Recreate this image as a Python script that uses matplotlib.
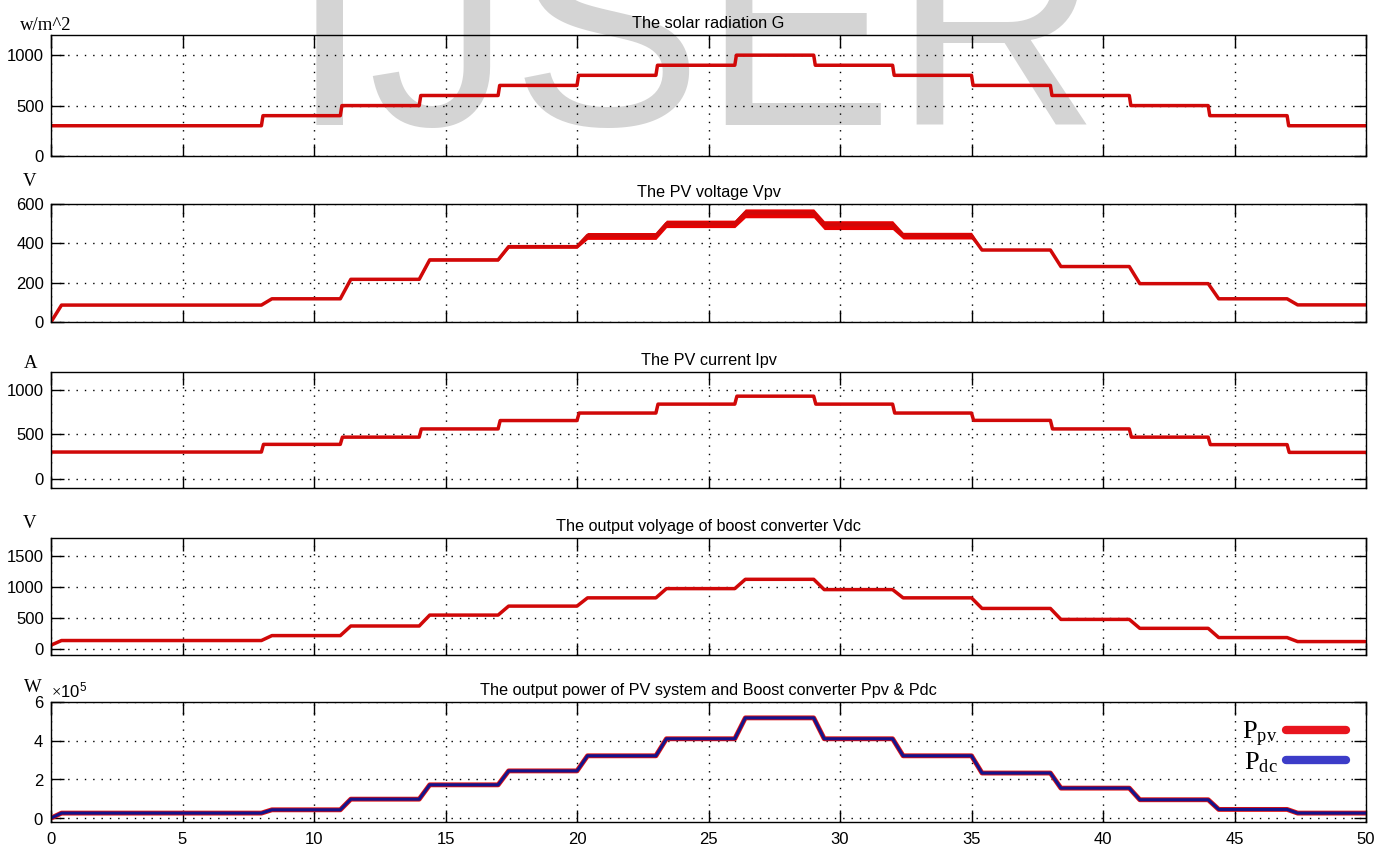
import numpy as np
import matplotlib
matplotlib.use('Agg')
import matplotlib.pyplot as plt
from matplotlib.lines import Line2D

plt.rcParams['font.family'] = 'Liberation Sans'
plt.rcParams['mathtext.fontset'] = 'custom'
plt.rcParams['mathtext.rm'] = 'Liberation Serif'
plt.rcParams['mathtext.it'] = 'Liberation Serif:italic'

# switching instants (s) and the level held in each interval
step_times = [0, 8, 11, 14, 17, 20, 23, 26, 29, 32, 35, 38, 41, 44, 47, 50]
G = [300, 400, 500, 600, 700, 800, 900, 1000, 900, 800, 700, 600, 500, 400, 300]
Vpv = [86, 118, 217, 316, 383, 440, 500, 555, 495, 440, 366, 282, 195, 118, 87]
Vpv_lo = [86, 118, 212, 310, 375, 420, 480, 530, 470, 422, 364, 280, 195, 118, 87]
Vpv_hi = [86, 118, 221, 322, 392, 455, 518, 575, 515, 456, 370, 285, 195, 118, 87]
Ipv = [303, 389, 470, 562, 656, 740, 840, 929, 840, 740, 658, 562, 470, 386, 299]
Vdc = [135, 215, 371, 548, 694, 828, 978, 1129, 962, 828, 656, 478, 333, 183, 118]
Ppv = [26000, 43000, 98000, 172000, 244000, 322000, 410000, 518000, 410000,
       322000, 233000, 155000, 95000, 45000, 26000]
Pdc = [26000, 43000, 98000, 172000, 244000, 322000, 410000, 518000, 410000,
       322000, 233000, 155000, 95000, 45000, 26000]


def staircase(levels, ramp, start=None):
    x = [0.0]
    y = [levels[0] if start is None else start]
    if start is not None:
        x.append(ramp)
        y.append(levels[0])
    for i in range(1, len(levels)):
        t = step_times[i]
        x += [t, t + ramp]
        y += [levels[i - 1], levels[i]]
    x.append(step_times[-1])
    y.append(levels[-1])
    return np.array(x), np.array(y)


W, H = 1390, 846
fig = plt.figure(figsize=(W / 100, H / 100), dpi=100)

# axes boxes in pixels: (top, bottom)
boxes = [(35, 156), (204, 322), (372, 488), (538, 655), (702, 822)]
left, right = 51, 1366
axes = []
for top, bot in boxes:
    ax = fig.add_axes([left / W, 1 - bot / H, (right - left) / W, (bot - top) / H])
    ax.set_facecolor('none')
    axes.append(ax)

red = '#d00808'

x, y = staircase(G, 0.06)
axes[0].plot(x, y, color=red, lw=2.5)

x, y = staircase(Vpv, 0.4, start=0)
xl, yl = staircase(Vpv_lo, 0.4, start=0)
xh, yh = staircase(Vpv_hi, 0.4, start=0)
axes[1].fill_between(x, yl, yh, color='#e80000', lw=0)
axes[1].plot(x, y, color=red, lw=2.5)

x, y = staircase(Ipv, 0.08)
axes[2].plot(x, y, color=red, lw=2.5)

x, y = staircase(Vdc, 0.4, start=60)
axes[3].plot(x, y, color=red, lw=2.5)

x, y = staircase(Ppv, 0.4, start=0)
axes[4].plot(x, y, color='#e01010', lw=3.5)
x, y = staircase(Pdc, 0.4, start=0)
axes[4].plot(x, y, color='#14148c', lw=2.2)

titles = ['The solar radiation G', 'The PV voltage Vpv', 'The PV current Ipv',
          'The output volyage of boost converter Vdc',
          'The output power of PV system and Boost converter Ppv & Pdc']
ylims = [(0, 1200), (0, 600), (-100, 1200), (-100, 1800), (-20000, 600000)]
yticks = [[0, 500, 1000], [0, 200, 400, 600], [0, 500, 1000],
          [0, 500, 1000, 1500], [0, 200000, 400000, 600000]]

for i, ax in enumerate(axes):
    ax.set_xlim(0, 50)
    ax.set_ylim(*ylims[i])
    ax.set_xticks(range(0, 51, 5))
    ax.set_yticks(yticks[i])
    ax.set_title(titles[i], fontsize=11.7, pad=5)
    ax.grid(True, color='black', linestyle=(0, (1, 5)), lw=1)
    ax.tick_params(direction='in', length=9, width=1, top=True, right=True,
                   labelsize=12, pad=5)
    for s in ax.spines.values():
        s.set_linewidth(1)
    if i < 4:
        ax.tick_params(labelbottom=False)

axes[4].ticklabel_format(axis='y', style='sci', scilimits=(0, 0), useMathText=True)
axes[4].yaxis.get_offset_text().set_fontsize(12)
axes[4].tick_params(axis='x', pad=7)

handles = [Line2D([], [], color='#e8141e', lw=6, solid_capstyle='round'),
           Line2D([], [], color='#3c3cc8', lw=6, solid_capstyle='round')]
axes[4].legend(handles, [r'$\mathrm{P}_{\mathrm{pv}}$', r'$\mathrm{P}_{\mathrm{dc}}$'],
               loc='upper right', bbox_to_anchor=(1.003, 1.05), frameon=False,
               markerfirst=False, fontsize=19, handlelength=2.3,
               handletextpad=0.3, labelspacing=0.05)

units = [('w/m^2', 20, 25), ('V', 23, 181), ('A', 24, 364), ('V', 23, 523), ('W', 24, 688)]
for txt, px, py in units:
    fig.text(px / W, 1 - py / H, txt, family='Liberation Serif', fontsize=13.5,
             ha='left', va='center')

fig.text(290 / W, 1 - 125 / H, 'IJSER', fontsize=206, color='#d4d4d4',
         ha='left', va='baseline', zorder=-1)

fig.savefig('out.png', dpi=100)
